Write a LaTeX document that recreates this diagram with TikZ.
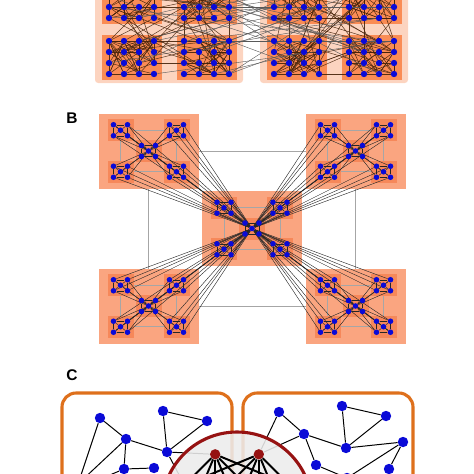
\documentclass[tikz,border=0pt]{standalone}
\usepackage{fontspec}
\setsansfont{Liberation Sans}
\usepackage{tikz}
\usetikzlibrary{positioning}

\definecolor{dotblue}{RGB}{10,10,215}
\definecolor{aouter}{RGB}{252,212,192}
\definecolor{ainner}{RGB}{250,140,85}
\definecolor{bouter}{RGB}{250,165,128}
\definecolor{binner}{RGB}{246,136,90}
\definecolor{aedgecol}{RGB}{70,35,10}
\definecolor{boxorange}{RGB}{222,112,28}
\definecolor{clubred}{RGB}{150,18,18}

\pgfdeclarelayer{bg}
\pgfdeclarelayer{edges}
\pgfdeclarelayer{club}
\pgfsetlayers{bg,edges,club,main}

\tikzset{
  adot/.style={circle,fill=dotblue,inner sep=0pt,minimum size=0.16cm},
  bdot/.style={circle,fill=dotblue,inner sep=0pt,minimum size=0.14cm},
  cdot/.style={circle,fill=dotblue,inner sep=0pt,minimum size=0.26cm},
  rdot/.style={circle,fill=clubred,inner sep=0pt,minimum size=0.26cm},
  aedge/.style={aedgecol,line width=0.35pt,opacity=0.9},
  across/.style={gray!70!black,line width=0.3pt},
  bgrid/.style={gray!70,line width=0.4pt},
  bedge/.style={black!85,line width=0.3pt},
  cedge/.style={black,line width=0.7pt},
  clubedge/.style={black,line width=1.4pt},
  cbox/.style={boxorange,line width=2.2pt,rounded corners=0.35cm},
  panel/.style={font=\sffamily\bfseries\fontsize{11}{12}\selectfont}
}

\begin{document}
\begin{tikzpicture}[x=0.025cm,y=-0.025cm]
\useasboundingbox (0,0) rectangle (474,474);
\clip (0,0) rectangle (474,474);

% ---- A: two modules of four 4x4 sub-modules
\begin{pgfonlayer}{bg}
  \foreach \xb in {109,274}
    \fill[aouter,rounded corners=0.08cm] (\xb-14,-40) rectangle (\xb+134,83);
\end{pgfonlayer}
\foreach \b/\xb in {1/109,2/274}
  \foreach \s/\sc/\sr in {1/0/0,2/1/0,3/0/1,4/1/1}{
    \begin{pgfonlayer}{bg}
      \fill[ainner] ({\xb+75*\sc-7},{-21+56*\sr}) rectangle ++(60,45);
    \end{pgfonlayer}
    \foreach \i in {0,...,15}{
      \pgfmathtruncatemacro\rowi{\i/4}
      \pgfmathtruncatemacro\coli{mod(\i,4)}
      \node[adot] (a-\b-\s-\i) at ({\xb+75*\sc+15*\coli},{-15+56*\sr+11*\rowi}) {};
    }
  }

\pgfmathsetseed{11}
\begin{pgfonlayer}{edges}
  % inside each sub-module
  \foreach \b in {1,2}
    \foreach \s in {1,...,4}
      \foreach \k in {1,...,42}{
        \pgfmathrandominteger{\ea}{0}{15}
        \pgfmathrandominteger{\eb}{0}{15}
        \draw[aedge] (a-\b-\s-\ea) -- (a-\b-\s-\eb);
      }
  % between sub-modules
  \foreach \b in {1,2}
    \foreach \sa/\sb in {1/2,1/3,1/4,2/3,2/4,3/4}
      \foreach \k in {1,...,6}{
        \pgfmathrandominteger{\ea}{0}{15}
        \pgfmathrandominteger{\eb}{0}{15}
        \draw[aedge] (a-\b-\sa-\ea) -- (a-\b-\sb-\eb);
      }
  % between the two modules
  \foreach \k in {1,...,34}{
    \pgfmathrandominteger{\sa}{1}{4}
    \pgfmathrandominteger{\sb}{1}{4}
    \pgfmathrandominteger{\ea}{0}{15}
    \pgfmathrandominteger{\eb}{0}{15}
    \draw[across] (a-1-\sa-\ea) -- (a-2-\sb-\eb);
  }
\end{pgfonlayer}

% ---- B: hierarchical network
\node[panel] (lblB) at (72,118) {B};
\def\bpos{0/0/0,1/-1/-1,2/1/-1,3/-1/1,4/1/1}
\foreach \p/\px/\py in \bpos
  \foreach \q/\qx/\qy in \bpos
    \foreach \u/\ux/\uy in \bpos
      \node[bdot] (b-\p-\q-\u) at ({252+103.5*\px+28*\qx+7*\ux},{228.5+77.5*\py+20.75*\qy+5.5*\uy}) {};

\begin{pgfonlayer}{bg}
  \draw[bgrid] (b-1-0-0.center) rectangle (b-4-0-0.center);
  \foreach \p/\px/\py in \bpos{
    \fill[bouter] ({252+103.5*\px-50},{228.5+77.5*\py-37.5}) rectangle ++(100,75);
    \draw[bgrid] (b-\p-1-0.center) rectangle (b-\p-4-0.center);
    \foreach \q/\qx/\qy in \bpos
      \fill[binner] ({252+103.5*\px+28*\qx-13},{228.5+77.5*\py+20.75*\qy-11}) rectangle ++(26,22);
  }
\end{pgfonlayer}

\begin{pgfonlayer}{edges}
  \foreach \p in {0,...,4}
    \foreach \q in {0,...,4}{
      \foreach \m/\n in {1/2,2/4,4/3,3/1}
        \draw[bedge] (b-\p-\q-\m) -- (b-\p-\q-\n);
      \foreach \u in {1,...,4}
        \draw[bedge] (b-\p-\q-0) -- (b-\p-\q-\u);
    }
  % hub of each block to its peripheral nodes
  \foreach \p in {0,...,4}
    \foreach \q in {1,...,4}
      \foreach \u in {1,...,4}
        \draw[bedge] (b-\p-0-0) -- (b-\p-\q-\u);
  % global hub
  \foreach \p in {1,...,4}
    \foreach \q in {1,...,4}
      \foreach \u in {1,...,4}
        \draw[bedge] (b-0-0-0) -- (b-\p-\q-\u);
\end{pgfonlayer}

% ---- C: modules and rich club
\node[panel] (lblC) at (72,375) {C};
\begin{pgfonlayer}{bg}
  \draw[cbox] (62,393) rectangle (232,540);
  \draw[cbox] (243,393) rectangle (413,540);
\end{pgfonlayer}

\node[cdot] (c1) at (100,418) {};
\node[cdot] (c2) at (163,411) {};
\node[cdot] (c3) at (207,421) {};
\node[cdot] (c4) at (126,439) {};
\node[cdot] (c5) at (167,452) {};
\node[cdot] (c6) at (124,469) {};
\node[cdot] (c7) at (154,468) {};
\coordinate (h1) at (78,484);
\coordinate (h2) at (98,480);
\coordinate (h3) at (186,488);

\node[cdot] (d1) at (279,412) {};
\node[cdot] (d2) at (342,406) {};
\node[cdot] (d3) at (386,416) {};
\node[cdot] (d4) at (304,434) {};
\node[cdot] (d5) at (346,448) {};
\node[cdot] (d6) at (403,442) {};
\node[cdot] (d7) at (316,465) {};
\node[cdot] (d8) at (347,478) {};
\node[cdot] (d9) at (389,469) {};

\node[rdot] (r1) at ([shift={(237,507)}]-112.5:57) {};
\node[rdot] (r2) at ([shift={(237,507)}]-67.5:57) {};
\foreach \k/\ang in {1/-22.5,2/22.5,3/67.5,4/112.5,5/157.5,6/202.5}
  \coordinate (k\k) at ([shift={(237,507)}]\ang:57);

\begin{pgfonlayer}{edges}
  \foreach \m/\n in {c1/c4,c1/h1,c4/h1,c4/c5,c4/c6,c2/c3,c2/c5,c3/c5,c6/c7,c6/h2,c5/h3,c5/r1,
                     d1/d4,d1/r2,d4/r2,d4/d5,d4/d7,d2/d3,d2/d5,d3/d5,d5/d6,d6/d9,d6/d8,d7/d8}
    \draw[cedge] (\m) -- (\n);
\end{pgfonlayer}

\begin{pgfonlayer}{club}
  \fill[gray!15,fill opacity=0.88] (237,507) circle [radius=75];
  \draw[clubred,line width=2.2pt] (237,507) circle [radius=75];
  \foreach \k in {1,...,6}{
    \draw[clubedge] (r1) -- (k\k);
    \draw[clubedge] (r2) -- (k\k);
  }
\end{pgfonlayer}
\end{tikzpicture}
\end{document}
